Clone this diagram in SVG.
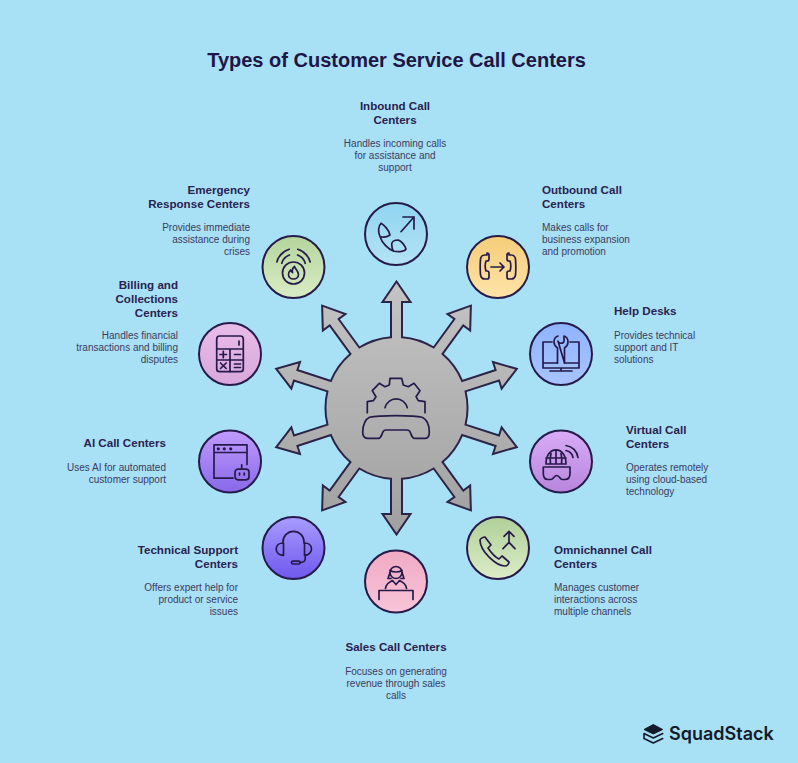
<svg xmlns="http://www.w3.org/2000/svg" width="798" height="763" viewBox="0 0 798 763">
<style>
text{font-family:"Liberation Sans",Arial,sans-serif}
.t{font-size:11.6px;font-weight:700;fill:#2a2250}
.d{font-size:10px;fill:#3c3a60}
.e{text-anchor:end}.m{text-anchor:middle}
.c{stroke:#261a4a;stroke-width:2}
.i{fill:none;stroke:#261a4a;stroke-width:1.700;stroke-linecap:round;stroke-linejoin:round}
</style>
<defs>
<linearGradient id="hub" x1="0" y1="0" x2="0" y2="1"><stop offset="0" stop-color="#c4c4c4"/><stop offset="1" stop-color="#a0a0a0"/></linearGradient>
<linearGradient id="g1" x1="0" y1="0" x2="0" y2="1"><stop offset="0" stop-color="#8fd4f0"/><stop offset="1" stop-color="#b5e3f5"/></linearGradient>
<linearGradient id="g2" x1="0" y1="0" x2="0" y2="1"><stop offset="0" stop-color="#f5cd7a"/><stop offset="1" stop-color="#ffe3a8"/></linearGradient>
<linearGradient id="g3" x1="0" y1="0" x2="0" y2="1"><stop offset="0" stop-color="#8fb4ff"/><stop offset="1" stop-color="#a8c4ff"/></linearGradient>
<linearGradient id="g4" x1="0" y1="0" x2="0" y2="1"><stop offset="0" stop-color="#d8acf8"/><stop offset="1" stop-color="#b886dc"/></linearGradient>
<linearGradient id="g5" x1="0" y1="0" x2="0" y2="1"><stop offset="0" stop-color="#b0d098"/><stop offset="1" stop-color="#dcecc8"/></linearGradient>
<linearGradient id="g6" x1="0" y1="0" x2="0" y2="1"><stop offset="0" stop-color="#f0aac4"/><stop offset="1" stop-color="#f8c4d8"/></linearGradient>
<linearGradient id="g7" x1="0" y1="0" x2="0" y2="1"><stop offset="0" stop-color="#a89cff"/><stop offset="1" stop-color="#6e58ee"/></linearGradient>
<linearGradient id="g8" x1="0" y1="0" x2="0" y2="1"><stop offset="0" stop-color="#c09cff"/><stop offset="1" stop-color="#8868e8"/></linearGradient>
<linearGradient id="g9" x1="0" y1="0" x2="0" y2="1"><stop offset="0" stop-color="#e8bce8"/><stop offset="1" stop-color="#d8a8dc"/></linearGradient>
<linearGradient id="g10" x1="0" y1="0" x2="0" y2="1"><stop offset="0" stop-color="#b4d59c"/><stop offset="1" stop-color="#d9ecc4"/></linearGradient>
</defs>
<rect width="798" height="763" fill="#a8e1f6"/>
<text x="396.500" y="67" class="m" style="font-size:20px;font-weight:700;fill:#1f1547">Types of Customer Service Call Centers</text>

<g id="connectors" transform="translate(396.500 408)">
<path fill="url(#hub)" stroke="#2c2448" stroke-width="2" stroke-linejoin="miter" d="M-5.500,-70.800 L-5.500,-106 -14,-106 0,-126.500 14,-106 5.500,-106 5.500,-70.800
A71,71 0 0 1 37.180,-60.510 L57.880,-88.990 51,-93.990 74.380,-102.340 73.660,-77.520 66.780,-82.520 46.080,-54.040
A71,71 0 0 1 65.630,-27.110 L99.110,-37.980 96.480,-46.060 120.300,-39.090 105.140,-19.440 102.510,-27.520 69.030,-16.650
A71,71 0 0 1 69.030,16.650 L102.510,27.520 105.140,19.440 120.300,39.090 96.480,46.060 99.110,37.980 65.630,27.110
A71,71 0 0 1 46.080,54.040 L66.780,82.520 73.660,77.520 74.380,102.340 51,93.990 57.880,88.990 37.180,60.510
A71,71 0 0 1 5.500,70.800 L5.500,106 14,106 0,126.500 -14,106 -5.500,106 -5.500,70.800
A71,71 0 0 1 -37.180,60.510 L-57.880,88.990 -51,93.990 -74.380,102.340 -73.660,77.520 -66.780,82.520 -46.080,54.040
A71,71 0 0 1 -65.630,27.110 L-99.110,37.980 -96.480,46.060 -120.300,39.090 -105.140,19.440 -102.510,27.520 -69.030,16.650
A71,71 0 0 1 -69.030,-16.650 L-102.510,-27.520 -105.140,-19.440 -120.300,-39.090 -96.480,-46.060 -99.110,-37.980 -65.630,-27.110
A71,71 0 0 1 -46.080,-54.040 L-66.780,-82.520 -73.660,-77.520 -74.380,-102.340 -51,-93.990 -57.880,-88.990 -37.180,-60.510
A71,71 0 0 1 -5.500,-70.800Z"/>
</g>
<g id="hub-icon" transform="translate(396.500 408)" class="i">
<path d="M-29.200,4.700 L-29.200,-6.300 -23.200,-7.300 -20.500,-11.300 -24.200,-17.300 -17.200,-24.700 -11.500,-21.300 -7.200,-23 -6.500,-29.700 5.200,-29.700 6.800,-23 11.800,-21.300 17.500,-24.700 23.500,-17.300 19.500,-11.300 21.800,-7.300 28.500,-6.300 28.500,4.700"/>
<path d="M-11.500,-.3 A11.500,11.700 0 0 1 10.800,-.3"/>
<path d="M-27,9.300 C-18,7 18,7 25.500,9.300 C30,11 33,17 32.800,24 C32.800,28 31,30.300 29,30.300 H18 C15,30.300 15,26 13,23 C12,22 11,22 10,22 H-10 C-11,22 -12,22 -13,23 C-15,26 -15,30.300 -18,30.300 H-29 C-32,30.300 -33.800,28 -33.800,24 C-33.800,17 -31,11 -27,9.300Z"/>
</g>

<g id="inbound">
<circle class="c" cx="396" cy="234" r="31" fill="url(#g1)"/>
<g class="i" transform="translate(396 234)">
<path d="M5,-2.300 L18,-17 M7,-17 H18 V-5"/>
<path d="M-15,-10.700 C-12,-9 -7,-4 -6,1 C-9,3 -13,3.500 -16,2.500 C-18,-2 -18,-8 -15,-10.700Z M-16,2.500 C-14,9 -8,15 -2.700,17 C1,18 8,18 10,15.300 C9,11 5,7 2.300,6 C-1,6 -4,7 -4.300,10 C-4.300,13 -3.500,15.500 -2.700,17"/>
</g>
<text class="t m" x="395" y="110">Inbound Call</text><text class="t m" x="395" y="124">Centers</text>
<text class="d m" x="395" y="147">Handles incoming calls</text><text class="d m" x="395" y="159">for assistance and</text><text class="d m" x="395" y="171">support</text>
</g>

<g id="outbound">
<circle class="c" cx="498" cy="267" r="31" fill="url(#g2)"/>
<g class="i" transform="translate(498 267)">
<path d="M-11,-12 h-2 c-3,0 -4,1 -4.500,4 c-.5,6 -.5,10 0,16 c.5,3 1.500,4 4.500,4 h2 c1.500,0 2,-1 2,-2 v-4 c0,-1 -.5,-2 -2,-2 h-1 c-1,-3 -1,-7 0,-10 h1 c1.500,0 2,-1 2,-2 v-4 c0,-1 -.5,-2 -2,-2z"/>
<path d="M11,-12 h2 c3,0 4,1 4.500,4 c.5,6 .5,10 0,16 c-.5,3 -1.500,4 -4.500,4 h-2 c-1.500,0 -2,-1 -2,-2 v-4 c0,-1 .5,-2 2,-2 h1 c1,-3 1,-7 0,-10 h-1 c-1.500,0 -2,-1 -2,-2 v-4 c0,-1 .5,-2 2,-2z"/>
<path d="M-7,0 H6 M2,-4 L6,0 2,4"/>
</g>
<text class="t" x="542" y="194">Outbound Call</text><text class="t" x="542" y="208">Centers</text>
<text class="d" x="542" y="231">Makes calls for</text><text class="d" x="542" y="243">business expansion</text><text class="d" x="542" y="255">and promotion</text>
</g>

<g id="help-desks">
<circle class="c" cx="561" cy="354" r="31" fill="url(#g3)"/>
<g class="i" transform="translate(561 354)">
<path d="M-9,-12 H-18 V14 H18 V-12 H9 M-18,9 H-3.500 M3.500,9 H18 M0,14 V17 M-11,17 H11"/>
<path d="M-3,-18 C-6,-17 -7,-14 -7,-12 C-7,-9 -5,-7 -3.500,-6 V9 M3.500,9 V-6 C5,-7 7,-9 7,-12 C7,-14 6,-17 3,-18 V-13 C3,-10 -3,-10 -3,-13 Z"/>
</g>
<text class="t" x="614" y="315">Help Desks</text>
<text class="d" x="614" y="339">Provides technical</text><text class="d" x="614" y="351">support and IT</text><text class="d" x="614" y="363">solutions</text>
</g>

<g id="virtual">
<circle class="c" cx="561" cy="461.500" r="31" fill="url(#g4)"/>
<g class="i" transform="translate(561 461.500)">
<path d="M-15,2.500 C-15,-6 -11,-11.700 -5,-11.700 C1,-11.700 5,-6 5,2.500 Z M-5,-11.700 V2.500 M-10,-8 C-11,-4 -11,0 -10.500,2.500 M0,-8 C1,-4 1,0 .5,2.500 M-15,-3.500 H5"/>
<path d="M-17.700,5.500 H9 V12 C9,16 7,18 4,18 H1 C-1,18 -1.500,14 -4.300,14 C-7,14 -7.500,18 -10,18 H-13 C-16,18 -17.700,16 -17.700,12 Z"/>
<path d="M5,-11 A9,9 0 0 1 12,-4 M5,-16 A14,14 0 0 1 17,-4"/>
</g>
<text class="t" x="626" y="434">Virtual Call</text><text class="t" x="626" y="448">Centers</text>
<text class="d" x="626" y="471">Operates remotely</text><text class="d" x="626" y="483">using cloud-based</text><text class="d" x="626" y="495">technology</text>
</g>

<g id="omnichannel">
<circle class="c" cx="498" cy="548" r="31" fill="url(#g5)"/>
<g class="i" transform="translate(498 548)">
<path d="M-18,-8 C-18,-9 -15,-11 -13,-11 L-7,-3 L-10,0 C-8,3 -3,9 1,11 L4,8 L11,14 C11,16 9,18 7,18 C-2,18 -18,3 -18,-8Z"/>
<path d="M6,-11.700 L11,-16.700 16,-11.700 M11,-16.700 V-5.700 L5,.7 M11,-5.700 L17,.7"/>
</g>
<text class="t" x="554" y="554">Omnichannel Call</text><text class="t" x="554" y="568">Centers</text>
<text class="d" x="554" y="591">Manages customer</text><text class="d" x="554" y="603">interactions across</text><text class="d" x="554" y="615">multiple channels</text>
</g>

<g id="sales">
<circle class="c" cx="396" cy="581.500" r="31" fill="url(#g6)"/>
<g class="i" transform="translate(396 581.500)">
<path d="M-17,18 V9 H17 V18"/>
<path d="M-10.500,7 C-10,2.500 -7,.5 -3.500,-1 L0,3 3.500,-1 C7,.5 10,2.500 10.500,7"/>
<circle cx="0" cy="-9" r="6"/>
<path d="M-6,-11 C-3,-9 3,-9 6,-11 M-6,-9 L-8,-3 H-5 M6,-9 L8,-3 H5"/>
</g>
<text class="t m" x="396" y="651">Sales Call Centers</text>
<text class="d m" x="396" y="675">Focuses on generating</text><text class="d m" x="396" y="687">revenue through sales</text><text class="d m" x="396" y="699">calls</text>
</g>

<g id="technical-support">
<circle class="c" cx="293.500" cy="548" r="31" fill="url(#g7)"/>
<g class="i" transform="translate(293.500 548)">
<path d="M-10.500,-5 V-6 A10.500,10.700 0 0 1 10.500,-6 V-5"/>
<path d="M-10,-5 C-14,-5 -17.300,-3 -17.300,1 C-17.300,5 -14,7.300 -10,7.300 Z M11,-5 C14.500,-5 18,-3 18,1 C18,5 14.500,7.300 11,7.300 Z"/>
<path d="M11.700,7.300 V11 C11.700,13 9.500,14.500 6.700,14.500"/>
<rect x="-2" y="13.200" width="8.700" height="2.800" rx="1.400"/>
</g>
<text class="t e" x="238" y="554">Technical Support</text><text class="t e" x="238" y="568">Centers</text>
<text class="d e" x="238" y="591">Offers expert help for</text><text class="d e" x="238" y="603">product or service</text><text class="d e" x="238" y="615">issues</text>
</g>

<g id="ai">
<circle class="c" cx="230" cy="461.500" r="31" fill="url(#g8)"/>
<g class="i" transform="translate(230 461.500)">
<path d="M3,16.700 H-16 V-16.700 H17 V3 M-16,-9 H17"/>
<path d="M-11.700,-12.700 h.01 M-5.700,-12.700 h.01 M.7,-12.700 h.01" stroke-width="3.200"/>
<rect x="5" y="7.700" width="14" height="10.600" rx="3"/>
<path d="M11.700,3.300 V7.700 M9.500,11.500 V13.500 M14.200,11.500 V13.500"/>
</g>
<text class="t e" x="166" y="447">AI Call Centers</text>
<text class="d e" x="166" y="471">Uses AI for automated</text><text class="d e" x="166" y="483">customer support</text>
</g>

<g id="billing">
<circle class="c" cx="230" cy="354" r="31" fill="url(#g9)"/>
<g class="i" transform="translate(230 354)">
<rect x="-13.300" y="-18" width="26.600" height="35.700" rx="3"/>
<path d="M-13.300,-5 H13.300 M0,-5 V17.700 M-13.300,6 H13.300 M9,-13 V-9"/>
<path d="M-10,.5 H-3.500 M-6.700,-2.700 V3.700 M4.500,.5 H10.500 M-9.500,9 L-3.800,14.500 M-3.800,9 L-9.500,14.500 M4.500,10 H10.500 M4.500,13.500 H10.500"/>
</g>
<text class="t e" x="178" y="289">Billing and</text><text class="t e" x="178" y="303">Collections</text><text class="t e" x="178" y="317">Centers</text>
<text class="d e" x="178" y="339">Handles financial</text><text class="d e" x="178" y="351">transactions and billing</text><text class="d e" x="178" y="363">disputes</text>
</g>

<g id="emergency">
<circle class="c" cx="293.500" cy="267" r="31" fill="url(#g10)"/>
<g class="i" transform="translate(293.500 267)">
<circle cx="0" cy="6" r="11"/>
<path d="M-16.700,-5 A19,19 0 0 1 -4.300,-17.700 M-11.700,-3.700 A12,12 0 0 1 -4,-12 M16.700,-5 A19,19 0 0 0 4.300,-17.700 M11.700,-3.700 A12,12 0 0 0 4,-12"/>
<path d="M1,-.5 C1.500,2 5,4 5,7.500 C5,10 3,12 0,12 C-3,12 -5,10 -5,7.500 C-5,5.500 -4,4 -3,3 C-2.500,4.500 -2,5 -1,5.500 C-1.500,3.500 -1,1 1,-.5Z"/>
</g>
<text class="t e" x="250" y="194">Emergency</text><text class="t e" x="250" y="208">Response Centers</text>
<text class="d e" x="250" y="231">Provides immediate</text><text class="d e" x="250" y="243">assistance during</text><text class="d e" x="250" y="255">crises</text>
</g>

<g id="logo">
<path d="M653.300,724.500 L662.700,729.500 653.300,734 644,729.500Z" fill="#151a2a" stroke="#151a2a" stroke-linejoin="round"/>
<path d="M644,733.500 L653.300,738 662.700,733.500 M644,738.500 L653.300,743 662.700,738.500 M644,733.500 V738.500" fill="none" stroke="#151a2a" stroke-width="1.600" stroke-linecap="round" stroke-linejoin="round"/>
<text x="669" y="740" style="font-family:Inter,Roboto,sans-serif;font-size:18px;font-weight:600;fill:#151a2a">SquadStack</text>
</g>
</svg>
